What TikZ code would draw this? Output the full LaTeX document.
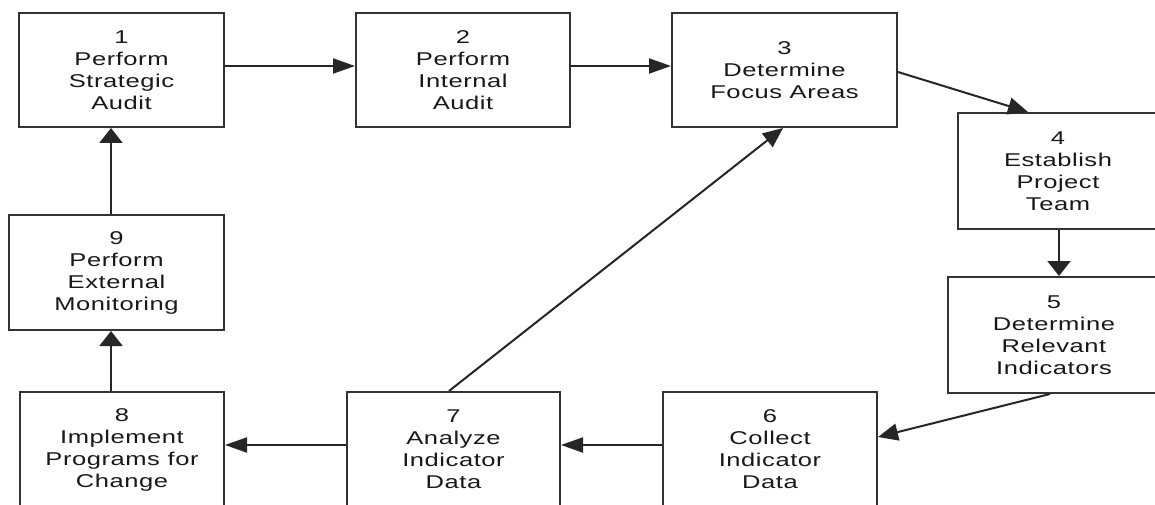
\documentclass[tikz,border=0pt]{standalone}
\usepackage{fontspec}
\setmainfont{Liberation Sans}
\newfontfamily\diafont[FakeStretch=1.38,LetterSpace=3]{Liberation Sans}
\usetikzlibrary{arrows.meta,calc}
\tikzset{
  stepbox/.style={draw=black!80, line width=2pt, rectangle, align=center,
    inner sep=0pt, font=\diafont\fontsize{18.5}{22}\selectfont, text=black!90},
  conn/.style={draw=black!85, line width=2pt},
  harrow/.style={conn, -{Triangle[length=22pt,width=15pt]}},
  varrow/.style={conn, -{Triangle[length=15pt,width=23pt]}},
  darrow/.style={conn, -{Triangle[length=20pt,width=17pt]}},
}
\begin{document}
\begin{tikzpicture}[x=1pt,y=-1pt]
\useasboundingbox[fill=white] (0,0) rectangle (1155,505);
\node[stepbox, minimum width=205pt, minimum height=114pt] (b1) at (121.5,70) {1\\Perform\\Strategic\\Audit};
\node[stepbox, minimum width=214pt, minimum height=114pt] (b2) at (463,70) {2\\Perform\\Internal\\Audit};
\node[stepbox, minimum width=225pt, minimum height=114pt] (b3) at (784.5,70) {3\\Determine\\Focus Areas};
\node[stepbox, minimum width=200pt, minimum height=116pt] (b4) at (1058,171) {4\\Establish\\Project\\Team};
\node[stepbox, minimum width=212pt, minimum height=116pt] (b5) at (1054,335) {5\\Determine\\Relevant\\Indicators};
\node[stepbox, minimum width=214pt, minimum height=115pt] (b6) at (770,449.5) {6\\Collect\\Indicator\\Data};
\node[stepbox, minimum width=213pt, minimum height=115pt] (b7) at (453.5,449.5) {7\\Analyze\\Indicator\\Data};
\node[stepbox, minimum width=204pt, minimum height=115pt] (b8) at (122,449.5) {8\\Implement\\Programs for\\Change};
\node[stepbox, minimum width=215pt, minimum height=115pt] (b9) at (116.5,272.5) {9\\Perform\\External\\Monitoring};

\draw[harrow] ([yshift=-54pt]b1.north east) -- ([yshift=-54pt]b2.north west);
\draw[harrow] ([yshift=-54pt]b2.north east) -- ([yshift=-54pt]b3.north west);
\draw[darrow] ([yshift=-60pt]b3.north east) -- ([xshift=71pt]b4.north west);
\draw[varrow] ([xshift=102pt]b4.south west) -- ([xshift=112pt]b5.north west);
\draw[darrow] ([xshift=103pt]b5.south west) -- ([yshift=-46pt]b6.north east);
\draw[harrow] ([yshift=-54pt]b6.north west) -- ([yshift=-54pt]b7.north east);
\draw[harrow] ([yshift=-54pt]b7.north west) -- ([yshift=-54pt]b8.north east);
\draw[varrow] ([xshift=92pt]b8.north west) -- ([xshift=103pt]b9.south west);
\draw[varrow] ([xshift=103pt]b9.north west) -- ([xshift=93pt]b1.south west);
\draw[darrow] ([xshift=103pt]b7.north west) -- ([xshift=112pt]b3.south west);
\end{tikzpicture}
\end{document}
